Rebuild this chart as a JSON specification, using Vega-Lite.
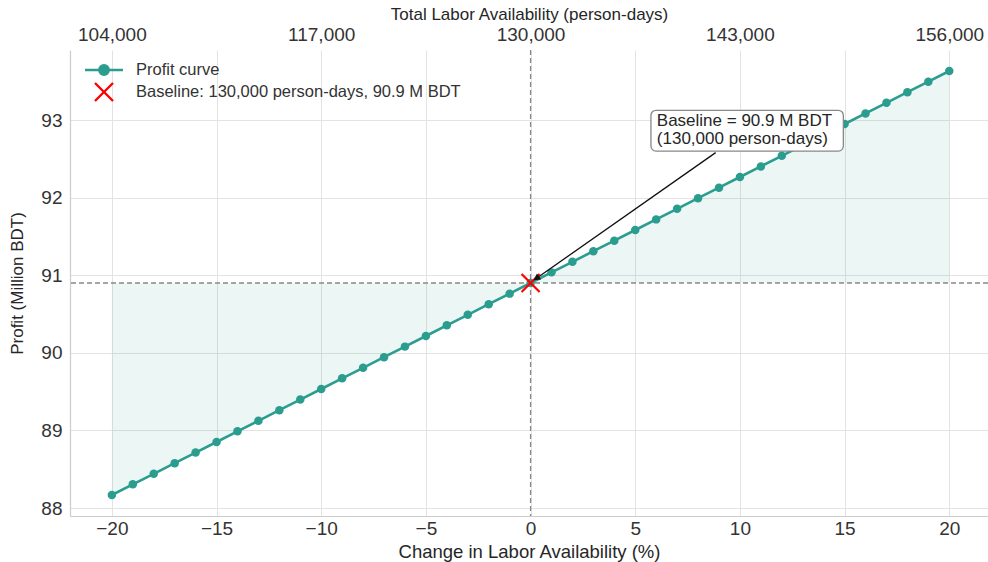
{
  "$schema": "https://vega.github.io/schema/vega-lite/v6.json",
  "width": 918,
  "height": 466,
  "autosize": {"type": "none"},
  "padding": {"left": 70, "top": 50, "right": 0, "bottom": 46},
  "background": "white",
  "config": {
    "font": "Liberation Sans",
    "view": {"stroke": null},
    "axis": {
      "domainColor": "#cccccc",
      "domainWidth": 1.2,
      "gridColor": "#e3e3e3",
      "gridWidth": 1,
      "ticks": false,
      "labelColor": "#333333",
      "titleColor": "#262626",
      "titleFontWeight": "normal",
      "labelFont": "Liberation Sans",
      "titleFont": "Liberation Sans"
    },
    "legend": {"labelFont": "Liberation Sans"}
  },
  "datasets": {
    "curve": [
      {"pct": -20, "profit": 88.168}, {"pct": -19, "profit": 88.305}, {"pct": -18, "profit": 88.441},
      {"pct": -17, "profit": 88.578}, {"pct": -16, "profit": 88.714}, {"pct": -15, "profit": 88.851},
      {"pct": -14, "profit": 88.988}, {"pct": -13, "profit": 89.124}, {"pct": -12, "profit": 89.261},
      {"pct": -11, "profit": 89.397}, {"pct": -10, "profit": 89.534}, {"pct": -9, "profit": 89.671},
      {"pct": -8, "profit": 89.807}, {"pct": -7, "profit": 89.944}, {"pct": -6, "profit": 90.080},
      {"pct": -5, "profit": 90.217}, {"pct": -4, "profit": 90.354}, {"pct": -3, "profit": 90.490},
      {"pct": -2, "profit": 90.627}, {"pct": -1, "profit": 90.763}, {"pct": 0, "profit": 90.900},
      {"pct": 1, "profit": 91.037}, {"pct": 2, "profit": 91.173}, {"pct": 3, "profit": 91.310},
      {"pct": 4, "profit": 91.446}, {"pct": 5, "profit": 91.583}, {"pct": 6, "profit": 91.720},
      {"pct": 7, "profit": 91.856}, {"pct": 8, "profit": 91.993}, {"pct": 9, "profit": 92.129},
      {"pct": 10, "profit": 92.266}, {"pct": 11, "profit": 92.403}, {"pct": 12, "profit": 92.539},
      {"pct": 13, "profit": 92.676}, {"pct": 14, "profit": 92.812}, {"pct": 15, "profit": 92.949},
      {"pct": 16, "profit": 93.086}, {"pct": 17, "profit": 93.222}, {"pct": 18, "profit": 93.359},
      {"pct": 19, "profit": 93.495}, {"pct": 20, "profit": 93.632}
    ],
    "baseline": [
      {"pct": 0, "profit": 90.9, "series": "Baseline: 130,000 person-days, 90.9 M BDT", "label": "Baseline = 90.9 M BDT\n(130,000 person-days)"}
    ]
  },
  "encoding": {
    "y": {
      "type": "quantitative",
      "scale": {"domain": [87.897, 93.903], "nice": false, "zero": false},
      "axis": {"values": [88, 89, 90, 91, 92, 93], "format": "d", "title": "Profit (Million BDT)", "labelFontSize": 19, "titleFontSize": 17, "labelPadding": 8, "titlePadding": 14, "grid": true}
    }
  },
  "layer": [
    {
      "data": {"name": "curve"},
      "mark": {"type": "area", "color": "#2a9d8f", "opacity": 0.09},
      "encoding": {
        "x": {
          "field": "pct", "type": "quantitative",
          "scale": {"domain": [-22, 21.85], "nice": false, "zero": false},
          "axis": {
            "orient": "bottom", "values": [-20, -15, -10, -5, 0, 5, 10, 15, 20],
            "labelExpr": "replace(format(datum.value, 'd'), '-', '−')",
            "title": "Change in Labor Availability (%)",
            "labelFontSize": 19, "titleFontSize": 18.5, "labelPadding": 3, "titlePadding": 4,
            "grid": true
          }
        },
        "y": {"field": "profit", "type": "quantitative", "axis": {"values": [88, 89, 90, 91, 92, 93], "format": "d", "title": "Profit (Million BDT)", "labelFontSize": 19, "titleFontSize": 17, "labelPadding": 8, "titlePadding": 14, "grid": true}},
        "y2": {"datum": 90.9}
      }
    },
    {
      "data": {"name": "baseline"},
      "mark": {"type": "rule", "color": "#888888", "strokeDash": [5, 3], "strokeWidth": 1.3},
      "encoding": {"y": {"field": "profit", "type": "quantitative", "axis": {"values": [88, 89, 90, 91, 92, 93], "format": "d", "title": "Profit (Million BDT)", "labelFontSize": 19, "titleFontSize": 17, "labelPadding": 8, "titlePadding": 14, "grid": true}}}
    },
    {
      "data": {"name": "baseline"},
      "mark": {"type": "rule", "color": "#888888", "strokeDash": [5, 3], "strokeWidth": 1.3},
      "encoding": {
        "y": null,
        "x": {
          "field": "pct", "type": "quantitative",
          "axis": {
            "orient": "top", "values": [-20, -10, 0, 10, 20],
            "labelExpr": "format(130000 * (1 + datum.value / 100), ',')",
            "title": "Total Labor Availability (person-days)",
            "labelFontSize": 19, "titleFontSize": 17, "labelPadding": 6, "titlePadding": 2,
            "grid": false, "domain": false
          }
        }
      }
    },
    {
      "data": {"name": "curve"},
      "mark": {"type": "line", "color": "#2a9d8f", "strokeWidth": 2.6},
      "encoding": {
        "x": {"field": "pct", "type": "quantitative", "axis": null},
        "y": {"field": "profit", "type": "quantitative", "axis": {"values": [88, 89, 90, 91, 92, 93], "format": "d", "title": "Profit (Million BDT)", "labelFontSize": 19, "titleFontSize": 17, "labelPadding": 8, "titlePadding": 14, "grid": true}}
      }
    },
    {
      "data": {"name": "curve"},
      "mark": {"type": "circle", "color": "#2a9d8f", "size": 72, "opacity": 1},
      "encoding": {
        "x": {"field": "pct", "type": "quantitative", "axis": null},
        "y": {"field": "profit", "type": "quantitative", "axis": {"values": [88, 89, 90, 91, 92, 93], "format": "d", "title": "Profit (Million BDT)", "labelFontSize": 19, "titleFontSize": 17, "labelPadding": 8, "titlePadding": 14, "grid": true}}
      }
    },
    {
      "data": {"name": "baseline"},
      "mark": {"type": "point", "filled": true, "size": 361, "strokeWidth": 2.2, "opacity": 1},
      "encoding": {
        "x": {"field": "pct", "type": "quantitative", "axis": null},
        "y": {"field": "profit", "type": "quantitative", "axis": {"values": [88, 89, 90, 91, 92, 93], "format": "d", "title": "Profit (Million BDT)", "labelFontSize": 19, "titleFontSize": 17, "labelPadding": 8, "titlePadding": 14, "grid": true}},
        "shape": {
          "field": "series", "type": "nominal",
          "scale": {
            "domain": ["Profit curve", "Baseline: 130,000 person-days, 90.9 M BDT"],
            "range": ["M-2,0L2,0M0.5,0A0.5,0.5,0,1,1,-0.5,0A0.5,0.5,0,1,1,0.5,0Z", "M-0.95,-0.95L0.95,0.95M-0.95,0.95L0.95,-0.95"]
          },
          "legend": {
            "orient": "none", "legendX": 23, "legendY": 9, "title": null,
            "labelFontSize": 16.5, "labelColor": "#333333", "labelOffset": 21, "labelLimit": 0,
            "rowPadding": -2, "symbolStrokeWidth": 2.4, "symbolSize": 361, "padding": 0
          }
        },
        "fill": {
          "field": "series", "type": "nominal",
          "scale": {
            "domain": ["Profit curve", "Baseline: 130,000 person-days, 90.9 M BDT"],
            "range": ["#2a9d8f", "#ff0000"]
          },
          "legend": {
            "orient": "none", "legendX": 23, "legendY": 9, "title": null,
            "labelFontSize": 16.5, "labelColor": "#333333", "labelOffset": 21, "labelLimit": 0,
            "rowPadding": -2, "symbolStrokeWidth": 2.4, "symbolSize": 361, "padding": 0
          }
        },
        "stroke": {
          "field": "series", "type": "nominal",
          "scale": {
            "domain": ["Profit curve", "Baseline: 130,000 person-days, 90.9 M BDT"],
            "range": ["#2a9d8f", "#ff0000"]
          },
          "legend": {
            "orient": "none", "legendX": 23, "legendY": 9, "title": null,
            "labelFontSize": 16.5, "labelColor": "#333333", "labelOffset": 21, "labelLimit": 0,
            "rowPadding": -2, "symbolStrokeWidth": 2.4, "symbolSize": 361, "padding": 0
          }
        }
      }
    },
    {
      "data": {"name": "baseline"},
      "mark": {"type": "rule", "color": "#111111", "strokeWidth": 1.3},
      "encoding": {
        "x": {"datum": 8.84, "type": "quantitative", "axis": null},
        "y": {"datum": 92.58, "type": "quantitative", "axis": {"values": [88, 89, 90, 91, 92, 93], "format": "d", "title": "Profit (Million BDT)", "labelFontSize": 19, "titleFontSize": 17, "labelPadding": 8, "titlePadding": 14, "grid": true}},
        "x2": {"datum": 0.2},
        "y2": {"datum": 90.945}
      }
    },
    {
      "data": {"name": "baseline"},
      "mark": {"type": "point", "shape": "triangle-up", "filled": true, "color": "#111111", "size": 55, "angle": 235, "opacity": 1},
      "encoding": {
        "x": {"datum": 0.28, "type": "quantitative", "axis": null},
        "y": {"datum": 90.96, "type": "quantitative", "axis": {"values": [88, 89, 90, 91, 92, 93], "format": "d", "title": "Profit (Million BDT)", "labelFontSize": 19, "titleFontSize": 17, "labelPadding": 8, "titlePadding": 14, "grid": true}}
      }
    },
    {
      "data": {"name": "baseline"},
      "mark": {"type": "rect", "fill": "white", "stroke": "#888888", "strokeWidth": 1.3, "cornerRadius": 5},
      "encoding": {
        "x": {"datum": 5.75, "type": "quantitative", "axis": null},
        "x2": {"datum": 14.94},
        "y": {"datum": 93.125, "type": "quantitative", "axis": {"values": [88, 89, 90, 91, 92, 93], "format": "d", "title": "Profit (Million BDT)", "labelFontSize": 19, "titleFontSize": 17, "labelPadding": 8, "titlePadding": 14, "grid": true}},
        "y2": {"datum": 92.6}
      }
    },
    {
      "data": {"name": "baseline"},
      "mark": {"type": "text", "align": "left", "baseline": "middle", "fontSize": 17, "color": "#262626", "lineBreak": "\n", "lineHeight": 18},
      "encoding": {
        "x": {"datum": 6.03, "type": "quantitative", "axis": null},
        "y": {"datum": 92.99, "type": "quantitative", "axis": {"values": [88, 89, 90, 91, 92, 93], "format": "d", "title": "Profit (Million BDT)", "labelFontSize": 19, "titleFontSize": 17, "labelPadding": 8, "titlePadding": 14, "grid": true}},
        "text": {"field": "label"}
      }
    }
  ]
}
